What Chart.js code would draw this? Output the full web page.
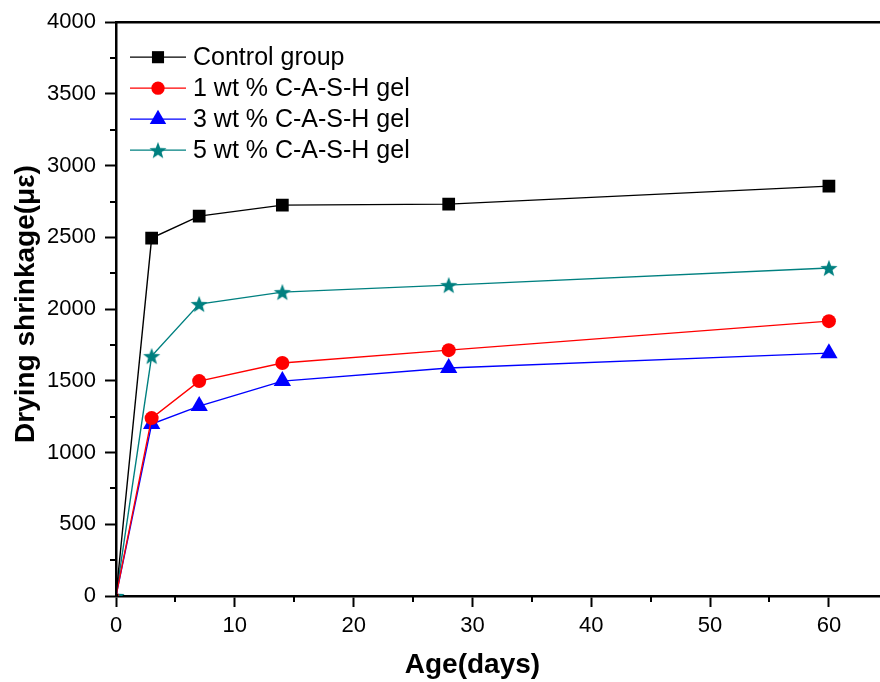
<!DOCTYPE html>
<html>
<head>
<meta charset="utf-8">
<script src="https://cdn.jsdelivr.net/npm/chart.js@4.4.1/dist/chart.umd.min.js"></script>
<style>
  html, body { margin: 0; padding: 0; background: #ffffff; }
  #c { display: block; }
</style>
</head>
<body>
<canvas id="c" width="880" height="682"></canvas>
<script>
// ---- data ----
const ageDays = [0, 3, 7, 14, 28, 60];
const controlGroup = [0, 2495, 2648, 2725, 2732, 2857];
const cash1wt = [0, 1240, 1498, 1624, 1714, 1916];
const cash3wt = [0, 1199, 1324, 1498, 1589, 1693];
const cash5wt = [0, 1672, 2035, 2118, 2167, 2286];
const seriesNames = ['Control group', '1 wt % C-A-S-H gel', '3 wt % C-A-S-H gel', '5 wt % C-A-S-H gel'];
const xTicks = [0, 10, 20, 30, 40, 50, 60];
const yTicks = [0, 500, 1000, 1500, 2000, 2500, 3000, 3500, 4000];
const xMinorTicks = [5, 15, 25, 35, 45, 55];
const yMinorTicks = [250, 750, 1250, 1750, 2250, 2750, 3250, 3750];
const xTitle = 'Age(days)';
const yTitle = 'Drying shrinkage(με)';

const FONT = "'Liberation Sans', Arial, Helvetica, sans-serif";

// filled star marker
function makeStar(color, outerR) {
  const size = Math.ceil(outerR * 2 + 2);
  const cv = document.createElement('canvas');
  cv.width = size; cv.height = size;
  const g = cv.getContext('2d');
  const cx = size / 2, cy = size / 2 + 0.8;
  const innerR = outerR * 0.42;
  g.beginPath();
  for (let i = 0; i < 10; i++) {
    const r = i % 2 === 0 ? outerR : innerR;
    const a = -Math.PI / 2 + i * Math.PI / 5;
    const px = cx + r * Math.cos(a), py = cy + r * Math.sin(a);
    if (i === 0) g.moveTo(px, py); else g.lineTo(px, py);
  }
  g.closePath();
  g.fillStyle = color;
  g.fill();
  return cv;
}
const starImg = makeStar('#008080', 9);

function pts(arr) { return ageDays.map((x, i) => ({ x: x, y: arr[i] })); }

const styles = [
  { color: '#000000', pointStyle: 'rect', radius: 9 },
  { color: '#ff0000', pointStyle: 'circle', radius: 7 },
  { color: '#0000ff', pointStyle: 'triangle', radius: 10 },
  { color: '#008080', pointStyle: starImg, radius: 9 }
];
const seriesData = [controlGroup, cash1wt, cash3wt, cash5wt];

const datasets = seriesData.map((arr, k) => ({
  label: seriesNames[k],
  data: pts(arr),
  borderColor: styles[k].color,
  backgroundColor: styles[k].color,
  pointBackgroundColor: styles[k].color,
  pointBorderColor: styles[k].color,
  pointBorderWidth: 0,
  borderWidth: 1.4,
  pointStyle: styles[k].pointStyle,
  pointRadius: (ctx) => ctx.dataIndex === 0 ? 3 : styles[k].radius,
  tension: 0
}));

const framePlugin = {
  id: 'frame',
  afterDraw(chart) {
    const ctx = chart.ctx;
    const a = chart.chartArea;
    const xs = chart.scales.x, ys = chart.scales.y;
    ctx.save();
    ctx.strokeStyle = '#000';
    // top border
    ctx.lineWidth = 2.5;
    ctx.beginPath();
    ctx.moveTo(a.left - 1, a.top);
    ctx.lineTo(chart.width, a.top);
    ctx.stroke();
    // minor ticks
    ctx.lineWidth = 2;
    ctx.beginPath();
    yMinorTicks.forEach(v => {
      const py = Math.round(ys.getPixelForValue(v));
      ctx.moveTo(a.left - 6, py);
      ctx.lineTo(a.left, py);
    });
    xMinorTicks.forEach(v => {
      const px = Math.round(xs.getPixelForValue(v));
      ctx.moveTo(px, a.bottom);
      ctx.lineTo(px, a.bottom + 6);
    });
    ctx.stroke();
    // axis titles
    ctx.fillStyle = '#000';
    ctx.font = 'bold 28px ' + FONT;
    ctx.textAlign = 'center';
    ctx.textBaseline = 'middle';
    const xc = (xs.getPixelForValue(xTicks[0]) + xs.getPixelForValue(xTicks[xTicks.length - 1])) / 2;
    ctx.fillText(xTitle, xc, chart.height - 17);
    ctx.save();
    ctx.translate(26, (a.top + a.bottom) / 2 - 5);
    ctx.rotate(-Math.PI / 2);
    ctx.fillText(yTitle, 0, 0);
    ctx.restore();
    ctx.restore();
  }
};

const legendPlugin = {
  id: 'customLegend',
  afterDatasetsDraw(chart) {
    const ctx = chart.ctx;
    const a = chart.chartArea;
    const x0 = a.left + 14, x1 = a.left + 70, xm = a.left + 42, xt = a.left + 77;
    ctx.save();
    chart.data.datasets.forEach((ds, i) => {
      const y = a.top + 35 + i * 31;
      ctx.strokeStyle = ds.borderColor;
      ctx.lineWidth = 1.3;
      ctx.beginPath();
      ctx.moveTo(x0, y);
      ctx.lineTo(x1, y);
      ctx.stroke();
      ctx.fillStyle = ds.borderColor;
      Chart.helpers.drawPoint(ctx, {
        pointStyle: ds.pointStyle,
        radius: styles[i].radius * 0.95,
        rotation: 0,
        borderWidth: 0
      }, xm, y);
      ctx.fillStyle = '#000';
      ctx.font = '25px ' + FONT;
      ctx.textBaseline = 'middle';
      ctx.textAlign = 'left';
      ctx.fillText(ds.label, xt, y + 1);
    });
    ctx.restore();
  }
};

new Chart(document.getElementById('c'), {
  type: 'line',
  data: { datasets: datasets },
  plugins: [framePlugin, legendPlugin],
  options: {
    responsive: false,
    animation: false,
    layout: { autoPadding: false, padding: { top: 22, right: 0, left: 0, bottom: 0 } },
    plugins: {
      legend: { display: false },
      tooltip: { enabled: false },
      title: { display: false }
    },
    scales: {
      x: {
        type: 'linear',
        min: 0,
        max: 64.3,
        afterBuildTicks: (s) => { s.ticks = xTicks.map(v => ({ value: v })); },
        afterFit: (s) => { s.height = 86; s.paddingRight = 0; s.paddingLeft = 0; },
        border: { display: true, color: '#000', width: 2.5 },
        grid: { display: true, drawOnChartArea: false, drawTicks: true, tickLength: 11, tickWidth: 2, tickColor: '#000' },
        ticks: {
          color: '#000',
          font: { family: FONT, size: 22 },
          padding: 6,
          maxRotation: 0,
          callback: (v) => String(v)
        },
        title: { display: false }
      },
      y: {
        type: 'linear',
        min: 0,
        max: 4000,
        afterBuildTicks: (s) => { s.ticks = yTicks.map(v => ({ value: v })); },
        afterFit: (s) => { s.width = 116; },
        border: { display: true, color: '#000', width: 2.5 },
        grid: { display: true, drawOnChartArea: false, drawTicks: true, tickLength: 11, tickWidth: 2, tickColor: '#000' },
        ticks: {
          color: '#000',
          font: { family: FONT, size: 22 },
          padding: 9,
          callback: (v) => String(v)
        },
        title: { display: false }
      }
    }
  }
});
</script>
</body>
</html>
